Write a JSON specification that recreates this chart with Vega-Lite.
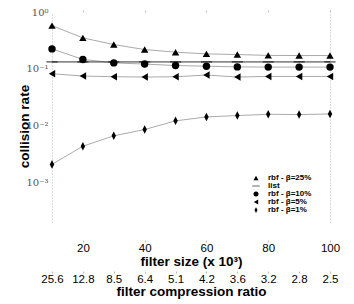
{
  "$schema": "https://vega.github.io/schema/vega-lite/v6.json",
  "width": 278,
  "height": 210,
  "autosize": {"type": "none"},
  "padding": {"left": 52, "top": 12, "right": 24, "bottom": 82},
  "background": "white",
  "config": {"view": {"stroke": null}, "font": "Liberation Sans"},
  "data": {
    "values": [
      {"series": "rbf - β=25%", "size": 10, "rate": 0.575},
      {"series": "rbf - β=25%", "size": 20, "rate": 0.35},
      {"series": "rbf - β=25%", "size": 30, "rate": 0.267},
      {"series": "rbf - β=25%", "size": 40, "rate": 0.218},
      {"series": "rbf - β=25%", "size": 50, "rate": 0.196},
      {"series": "rbf - β=25%", "size": 60, "rate": 0.183},
      {"series": "rbf - β=25%", "size": 70, "rate": 0.178},
      {"series": "rbf - β=25%", "size": 80, "rate": 0.172},
      {"series": "rbf - β=25%", "size": 90, "rate": 0.171},
      {"series": "rbf - β=25%", "size": 100, "rate": 0.171},
      {"series": "list", "size": 10, "rate": 0.132},
      {"series": "list", "size": 20, "rate": 0.132},
      {"series": "list", "size": 30, "rate": 0.132},
      {"series": "list", "size": 40, "rate": 0.132},
      {"series": "list", "size": 50, "rate": 0.132},
      {"series": "list", "size": 60, "rate": 0.132},
      {"series": "list", "size": 70, "rate": 0.132},
      {"series": "list", "size": 80, "rate": 0.132},
      {"series": "list", "size": 90, "rate": 0.132},
      {"series": "list", "size": 100, "rate": 0.132},
      {"series": "rbf - β=10%", "size": 10, "rate": 0.224},
      {"series": "rbf - β=10%", "size": 20, "rate": 0.146},
      {"series": "rbf - β=10%", "size": 30, "rate": 0.127},
      {"series": "rbf - β=10%", "size": 40, "rate": 0.121},
      {"series": "rbf - β=10%", "size": 50, "rate": 0.114},
      {"series": "rbf - β=10%", "size": 60, "rate": 0.111},
      {"series": "rbf - β=10%", "size": 70, "rate": 0.108},
      {"series": "rbf - β=10%", "size": 80, "rate": 0.107},
      {"series": "rbf - β=10%", "size": 90, "rate": 0.107},
      {"series": "rbf - β=10%", "size": 100, "rate": 0.107},
      {"series": "rbf - β=5%", "size": 10, "rate": 0.0817},
      {"series": "rbf - β=5%", "size": 20, "rate": 0.0745},
      {"series": "rbf - β=5%", "size": 30, "rate": 0.0724},
      {"series": "rbf - β=5%", "size": 40, "rate": 0.0715},
      {"series": "rbf - β=5%", "size": 50, "rate": 0.0724},
      {"series": "rbf - β=5%", "size": 60, "rate": 0.0775},
      {"series": "rbf - β=5%", "size": 70, "rate": 0.0715},
      {"series": "rbf - β=5%", "size": 80, "rate": 0.0733},
      {"series": "rbf - β=5%", "size": 90, "rate": 0.0733},
      {"series": "rbf - β=5%", "size": 100, "rate": 0.0733},
      {"series": "rbf - β=1%", "size": 10, "rate": 0.00207},
      {"series": "rbf - β=1%", "size": 20, "rate": 0.00433},
      {"series": "rbf - β=1%", "size": 30, "rate": 0.00659},
      {"series": "rbf - β=1%", "size": 40, "rate": 0.00851},
      {"series": "rbf - β=1%", "size": 50, "rate": 0.0121},
      {"series": "rbf - β=1%", "size": 60, "rate": 0.0142},
      {"series": "rbf - β=1%", "size": 70, "rate": 0.015},
      {"series": "rbf - β=1%", "size": 80, "rate": 0.0158},
      {"series": "rbf - β=1%", "size": 90, "rate": 0.0156},
      {"series": "rbf - β=1%", "size": 100, "rate": 0.016}
    ]
  },
  "layer": [
    {
      "transform": [{"filter": "datum.series !== 'list'"}],
      "mark": {"type": "line", "color": "#aaaaaa", "strokeWidth": 1},
      "encoding": {
        "x": {
          "field": "size", "type": "quantitative",
          "scale": {"domain": [10, 100]},
          "axis": {
            "orient": "bottom", "values": [20, 40, 60, 80, 100], "offset": 18,
            "domain": false, "tickSize": 2, "tickColor": "#bbbbbb", "grid": false,
            "labelPadding": 0, "labelFontSize": 11.5, "labelColor": "black", "labelFlush": false,
            "title": "filter size (x 10³)", "titleFontSize": 13.5, "titleFontWeight": "bold",
            "titleColor": "black", "titlePadding": 1
          }
        },
        "y": {
          "field": "rate", "type": "quantitative",
          "scale": {"type": "log", "domain": [0.0002, 1]},
          "axis": {
            "orient": "left", "values": [1, 0.1, 0.01, 0.001],
            "labelExpr": "datum.value >= 0.5 ? '10⁰' : datum.value >= 0.05 ? '10⁻¹' : datum.value >= 0.005 ? '10⁻²' : '10⁻³'",
            "labelFont": "DejaVu Serif", "labelFontSize": 10, "labelColor": "#555555",
            "ticks": false, "labelPadding": 4, "grid": false,
            "domain": true, "domainColor": "#bbbbbb", "domainDash": [1, 2],
            "title": "collision rate", "titleFontSize": 13.5, "titleFontWeight": "bold",
            "titleColor": "black", "titleX": -21, "titleY": 114
          }
        },
        "detail": {"field": "series"}
      }
    },
    {
      "transform": [{"filter": "datum.series === 'list'"}],
      "mark": {"type": "line", "color": "#333333", "strokeWidth": 1},
      "encoding": {
        "x": {
          "field": "size", "type": "quantitative",
          "scale": {"domain": [10, 100]},
          "axis": {
            "orient": "top", "values": [20, 40, 60, 80, 100], "labels": false,
            "domain": false, "tickSize": 2, "tickColor": "#bbbbbb", "grid": false, "title": null
          }
        },
        "y": {
          "field": "rate", "type": "quantitative",
          "scale": {"type": "log", "domain": [0.0002, 1]},
          "axis": {
            "orient": "right", "labels": false, "ticks": false, "grid": false, "title": null,
            "domainColor": "#bbbbbb", "domainDash": [1, 2]
          }
        }
      }
    },
    {
      "mark": {"type": "point", "filled": true, "color": "black", "size": 55, "opacity": 1},
      "encoding": {
        "x": {
          "field": "size", "type": "quantitative",
          "scale": {"domain": [10, 100]},
          "axis": {
            "orient": "bottom", "values": [10, 20, 30, 40, 50, 60, 70, 80, 90, 100], "offset": 49,
            "labelExpr": "['25.6','12.8','8.5','6.4','5.1','4.2','3.6','3.2','2.8','2.5'][round(datum.value/10)-1]",
            "domain": false, "tickSize": 2, "tickColor": "#bbbbbb", "grid": false,
            "labelPadding": 0, "labelFontSize": 11.5, "labelColor": "black", "labelFlush": false,
            "labelOverlap": false,
            "title": "filter compression ratio", "titleFontSize": 13.5, "titleFontWeight": "bold",
            "titleColor": "black", "titlePadding": 0
          }
        },
        "y": {
          "field": "rate", "type": "quantitative",
          "scale": {"type": "log", "domain": [0.0002, 1]},
          "axis": null
        },
        "shape": {
          "field": "series", "type": "nominal",
          "scale": {
            "domain": ["rbf - β=25%", "list", "rbf - β=10%", "rbf - β=5%", "rbf - β=1%"],
            "range": ["triangle-up", "M-1.5,-0.12H1.5V0.12H-1.5Z", "circle", "triangle-left", "M0,-1.15L0.6,0L0,1.15L-0.6,0Z"]
          },
          "legend": {
            "title": null, "orient": "none", "legendX": 200, "legendY": 162,
            "labelFontSize": 8, "labelFontWeight": "bold", "labelColor": "black",
            "symbolSize": 25, "labelOffset": 8, "rowPadding": -2, "padding": 0,
            "symbolFillColor": "black", "symbolStrokeWidth": 0
          }
        }
      }
    }
  ],
  "resolve": {"axis": {"x": "independent", "y": "independent"}}
}
